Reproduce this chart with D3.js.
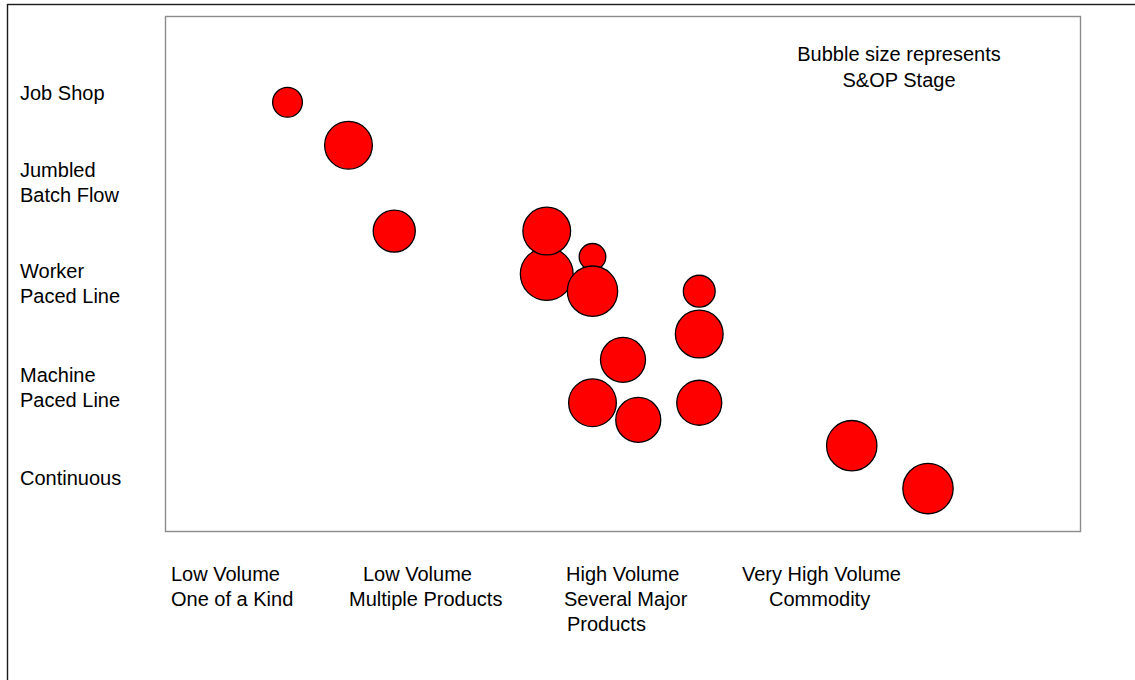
<!DOCTYPE html>
<html>
<head>
<meta charset="utf-8">
<script src="https://cdn.jsdelivr.net/npm/d3@7"></script>
<style>
  body { margin: 0; background: #fff; }
  text { font-family: "Liberation Sans", Arial, sans-serif; font-size: 20px; fill: #000; }
</style>
</head>
<body>
<script>
// bubble data: volume (x), process type (y), S&OP stage (size)
let xValues = [8, 12, 15, 25, 25, 28, 28, 35, 35, 30, 28, 31, 35, 45, 50];
let yValues = [50, 45, 35, 30, 35, 32, 28, 28, 23, 20, 15, 13, 15, 10, 5];
let stageSizes = [1.75, 4.5, 3.5, 5.5, 4.5, 1.4, 5, 2, 4.5, 4, 4.5, 4, 4, 5, 5];

let processLabels = [["Job Shop"], ["Jumbled", "Batch Flow"], ["Worker", "Paced Line"], ["Machine", "Paced Line"], ["Continuous"]];
let volumeLabels = [["Low Volume", "One of a Kind"], ["Low Volume", "Multiple Products"], ["High Volume", "Several Major", "Products"], ["Very High Volume", "Commodity"]];
let noteLines = ["Bubble size represents", "S&OP Stage"];

let svgWidth = 1135;
let svgHeight = 680;

let plot = { left: 165.5, top: 16.5, right: 1080.5, bottom: 531.5 };

let svg = d3.select("body")
    .append("svg")
    .attr("width", svgWidth)
    .attr("height", svgHeight);

// outer frame (right/bottom run off the picture)
svg.append("rect")
    .attr("x", 7.5).attr("y", 4.5)
    .attr("width", 1200).attr("height", 800)
    .attr("fill", "#fff")
    .attr("stroke", "#1a1a1a")
    .attr("stroke-width", 1.4);

svg.append("rect")
    .attr("x", plot.left).attr("y", plot.top)
    .attr("width", plot.right - plot.left)
    .attr("height", plot.bottom - plot.top)
    .attr("fill", "#fff")
    .attr("stroke", "#8c8c8c")
    .attr("stroke-width", 1.4);

let xScale = d3.scaleLinear().domain([0, 60]).range([plot.left, plot.right]);
let yScale = d3.scaleLinear().domain([0, 60]).range([plot.bottom, plot.top]);
let rScale = d3.scaleSqrt().domain([0, 4]).range([0, 22.5]);

let bubbles = xValues.map((x, i) => ({ x: x, y: yValues[i], s: stageSizes[i] }));

svg.append("g")
    .selectAll("circle")
    .data(bubbles)
    .join("circle")
    .attr("cx", d => xScale(d.x))
    .attr("cy", d => yScale(d.y))
    .attr("r", d => rScale(d.s))
    .attr("fill", "#ff0000")
    .attr("stroke", "#000")
    .attr("stroke-width", 1.3);

// left side labels (first baseline of each group)
let processBaselines = [100, 177, 278, 382, 485];
processLabels.forEach(function(lines, i) {
    let t = svg.append("text").attr("x", 20).attr("y", processBaselines[i]);
    lines.forEach(function(line, j) {
        t.append("tspan").attr("x", 20).attr("dy", j == 0 ? 0 : 25).text(line);
    });
});

// bottom labels, each line has its own start
let volumeStarts = [[171, 171], [363, 349], [566, 564, 567], [742, 769]];
volumeLabels.forEach(function(lines, i) {
    let t = svg.append("text").attr("y", 581);
    lines.forEach(function(line, j) {
        t.append("tspan").attr("x", volumeStarts[i][j]).attr("dy", j == 0 ? 0 : 25).text(line);
    });
});

let note = svg.append("text").attr("text-anchor", "middle").attr("y", 61);
noteLines.forEach(function(line, j) {
    note.append("tspan").attr("x", 899).attr("dy", j == 0 ? 0 : 26).text(line);
});
</script>
</body>
</html>
